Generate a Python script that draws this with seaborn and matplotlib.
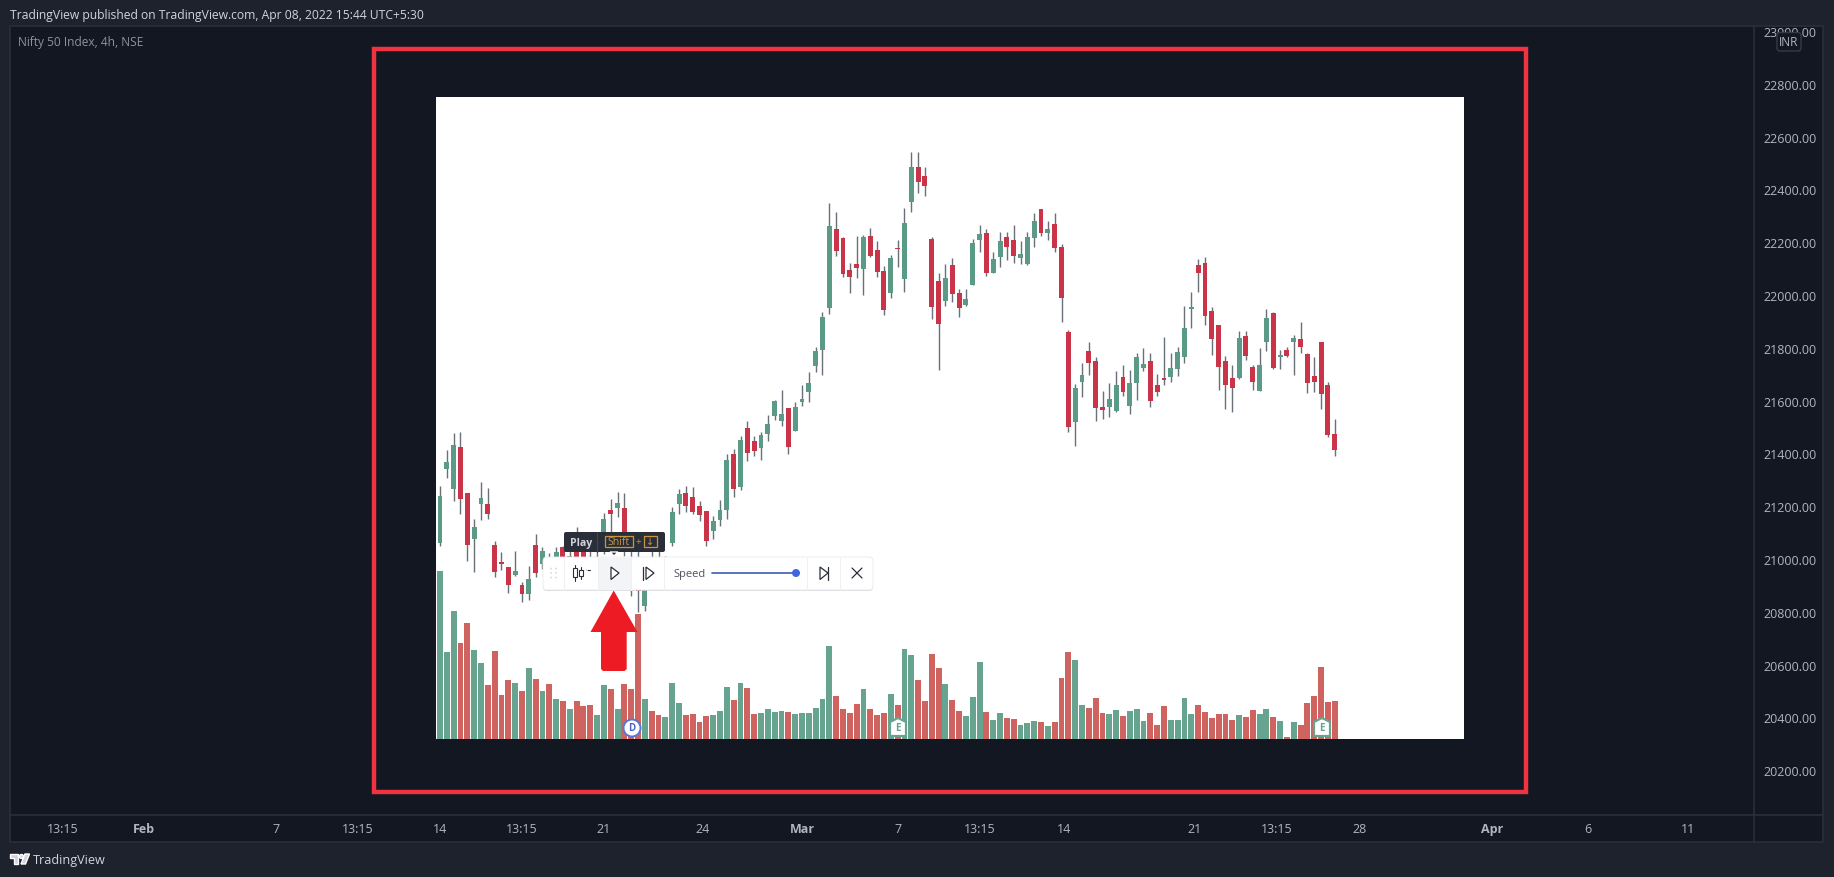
import numpy as np
import pandas as pd
import matplotlib
matplotlib.use("Agg")
import matplotlib.pyplot as plt
from matplotlib.patches import Rectangle, FancyBboxPatch, Polygon, Circle
import seaborn as sns

# --- datos (Nifty 50, velas de 4h) ---
opens = [21060, 21341, 21265, 21424, 21250, 21076, 21210, 21207, 21053, 20987,
         20968, 20941, 20901, 20867, 21053, 20981, 21000, 20975, 21044, 20962,
         21040, 21032, 20990, 20960, 21050, 21187, 21192, 21192, 21000, 20980,
         20823, 20990, 21000, 20950, 21060, 21208, 21250, 21236, 21199, 21182,
         21105, 21149, 21186, 21398, 21271, 21496, 21447, 21420, 21473, 21543,
         21523, 21573, 21484, 21596, 21634, 21730, 21793, 21951, 22251, 22216,
         22096, 22118, 22099, 22225, 22171, 22090, 22006, 22178, 22061, 22354,
         22485, 22450, 22212, 22053, 21976, 22112, 22008, 21963, 22039, 22210,
         22235, 22083, 22145, 22218, 22208, 22139, 22116, 22216, 22326, 22236,
         22269, 22183, 21859, 21520, 21672, 21788, 21749, 21575, 21575, 21561,
         21688, 21581, 21666, 21724, 21749, 21659, 21684, 21691, 21720, 21767,
         21948, 22112, 22121, 21938, 21885, 21749, 21684, 21684, 21846, 21729,
         21636, 21821, 21933, 21767, 21791, 21823, 21832, 21778, 21693, 21823,
         21659, 21472]
closes = [21240, 21366, 21432, 21227, 21053, 21122, 21232, 21170, 20952, 20981,
          20903, 20953, 20867, 20923, 20946, 21032, 20937, 21025, 20975, 21013,
          20990, 20980, 20950, 21000, 21151, 21170, 21211, 21040, 20900, 20880,
          20924, 20920, 20950, 20990, 21177, 21246, 21202, 21179, 21168, 21067,
          21145, 21186, 21375, 21265, 21451, 21401, 21408, 21470, 21511, 21597,
          21551, 21425, 21577, 21606, 21667, 21788, 21917, 22260, 22168, 22080,
          22070, 22102, 22220, 22149, 22087, 21945, 22140, 22174, 22274, 22485,
          22428, 22414, 21953, 21889, 22063, 22005, 21951, 21985, 22197, 22231,
          22083, 22136, 22205, 22182, 22149, 22154, 22218, 22279, 22236, 22249,
          22178, 21989, 21499, 21648, 21697, 21743, 21571, 21565, 21606, 21659,
          21631, 21667, 21767, 21739, 21600, 21634, 21678, 21724, 21783, 21875,
          21953, 22083, 21922, 21833, 21726, 21659, 21648, 21836, 21769, 21672,
          21735, 21913, 21724, 21772, 21769, 21836, 21804, 21668, 21672, 21626,
          21470, 21411]
highs = [21275, 21414, 21476, 21480, 21250, 21151, 21290, 21269, 21067, 21025,
         20968, 21032, 20914, 20972, 21096, 21044, 21023, 21044, 21050, 21040,
         21120, 21060, 21030, 21030, 21173, 21227, 21255, 21249, 21030, 21030,
         20960, 21030, 21030, 21010, 21196, 21265, 21275, 21271, 21218, 21183,
         21164, 21223, 21398, 21417, 21467, 21521, 21467, 21480, 21547, 21604,
         21642, 21573, 21594, 21659, 21707, 21802, 21934, 22347, 22313, 22218,
         22120, 22222, 22227, 22254, 22206, 22111, 22153, 22208, 22328, 22540,
         22540, 22485, 22218, 22082, 22118, 22140, 22023, 22023, 22212, 22265,
         22250, 22162, 22240, 22237, 22265, 22203, 22237, 22309, 22326, 22279,
         22309, 22193, 21868, 21663, 21743, 21821, 21764, 21635, 21666, 21711,
         21736, 21716, 21779, 21798, 21780, 21701, 21840, 21779, 21804, 21960,
         22010, 22138, 22143, 21955, 21886, 21768, 21735, 21865, 21865, 21735,
         21799, 21947, 21934, 21793, 21802, 21850, 21897, 21780, 21764, 21823,
         21669, 21530]
lows = [21050, 21305, 21221, 21170, 20994, 20949, 21149, 21151, 20930, 20960,
        20871, 20937, 20836, 20846, 20930, 20962, 20884, 20899, 20905, 20920,
        20940, 20930, 20920, 20930, 21020, 21100, 21158, 21010, 20860, 20798,
        20804, 20900, 20930, 20930, 21050, 21170, 21177, 21170, 21145, 21050,
        21076, 21124, 21151, 21236, 21263, 21372, 21391, 21376, 21446, 21527,
        21505, 21398, 21484, 21581, 21594, 21710, 21697, 21928, 22149, 22067,
        22008, 22064, 22000, 22143, 22067, 21926, 21987, 22107, 22013, 22316,
        22386, 22374, 21909, 21717, 21960, 21975, 21918, 21957, 22038, 22164,
        22071, 22083, 22107, 22133, 22121, 22116, 22115, 22181, 22225, 22210,
        22162, 21899, 21480, 21429, 21615, 21697, 21524, 21530, 21539, 21556,
        21616, 21549, 21602, 21713, 21577, 21616, 21660, 21669, 21695, 21743,
        21875, 22013, 21888, 21774, 21639, 21568, 21556, 21682, 21755, 21642,
        21636, 21789, 21720, 21720, 21767, 21698, 21780, 21629, 21634, 21568,
        21462, 21392]
# volumen en unidades relativas, el original no tiene escala de volumen
volumes = [168, 87, 128, 96, 116, 89, 76, 54, 88, 44,
           59, 56, 48, 71, 60, 48, 55, 40, 38, 30,
           38, 33, 34, 24, 54, 50, 30, 55, 50, 125,
           40, 28, 24, 22, 56, 36, 24, 25, 17, 23,
           24, 28, 52, 39, 56, 51, 25, 26, 30, 27,
           28, 27, 25, 26, 26, 31, 40, 93, 43, 30,
           26, 35, 50, 30, 24, 26, 45, 34, 90, 84,
           59, 38, 85, 71, 55, 39, 28, 23, 42, 77,
           27, 19, 26, 21, 20, 14, 16, 18, 17, 13,
           17, 61, 87, 79, 34, 31, 41, 26, 25, 29,
           23, 28, 30, 18, 26, 14, 33, 19, 19, 41,
           25, 34, 27, 21, 25, 25, 19, 24, 22, 29,
           25, 30, 22, 18, 2, 17, 14, 36, 43, 72,
           37, 38]

price_ticks = [20200, 20400, 20600, 20800, 21000, 21200, 21400, 21600, 21800,
               22000, 22200, 22400, 22600, 22800, 23000]
time_ticks = [-55.3, -43.3, -24, -12, 0, 12, 24, 38.5, 53, 67, 79, 91.4, 110.5,
              122.5, 134.6, 154, 168, 182.7]
time_labels = ["13:15", "Feb", "7", "13:15", "14", "13:15", "21", "24", "Mar",
               "7", "13:15", "14", "21", "13:15", "28", "Apr", "6", "11"]

W, H = 1834, 878
BG = "#1e222d"
CHART = "#131722"
LINE = "#2a2e39"
TEXT = "#b2b5be"
UP, DOWN = "#5a9a86", "#c93449"
VOL_UP, VOL_DOWN = "#67a490", "#cf6360"

sns.set_theme(style="dark")
plt.rcParams["font.family"] = ["Open Sans", "DejaVu Sans"]


def caja(x0, y0, x1, y1):
    # ejes a partir de pixeles de la imagen
    return [x0 / W, 1 - y1 / H, (x1 - x0) / W, (y1 - y0) / H]


df = pd.DataFrame({"bar": np.arange(len(opens)), "open": opens, "close": closes,
                   "high": highs, "low": lows, "volume": volumes})
df["dir"] = np.where(df["close"] >= df["open"], "up", "down")
df["body_low"] = df[["open", "close"]].min(axis=1)
df["body"] = (df["close"] - df["open"]).abs().clip(lower=5)

fig = plt.figure(figsize=(W / 100, H / 100), dpi=100, facecolor=BG)

# --- fondo: marco, recuadro rojo y panel blanco ---
fondo = fig.add_axes([0, 0, 1, 1], zorder=0)
fondo.set_xlim(0, W)
fondo.set_ylim(H, 0)
fondo.axis("off")
fondo.add_patch(Rectangle((10, 27), 1813, 816, fc=CHART, ec=LINE, lw=1.2))
fondo.plot([1754, 1754], [27, 843], color=LINE, lw=1.2)
fondo.plot([10, 1823], [816, 816], color=LINE, lw=1.2)
fondo.add_patch(Rectangle((374, 50), 1152, 742.5, fc="none", ec="#ef3340", lw=3.2))
fondo.add_patch(Rectangle((436, 97.5), 1028, 642, fc="white", ec="none"))

# --- velas ---
ax = fig.add_axes(caja(10, 27, 1754, 815), zorder=2)
ax.set_facecolor("none")
ax.set_xlim((10 - 440) / 6.83, (1754 - 440) / 6.83)
ax.set_ylim(20034, 23019)
ax.vlines(df["bar"], df["low"], df["high"], colors="#6a7078", lw=1.0, zorder=2)
ax.bar(df["bar"], df["body"], bottom=df["body_low"], width=0.72,
       color=df["dir"].map({"up": UP, "down": DOWN}), lw=0, zorder=3)
ax.yaxis.tick_right()
ax.set_yticks(price_ticks)
ax.set_yticklabels([f"{p:.2f}" for p in price_ticks], color=TEXT, fontsize=9)
ax.set_xticks(time_ticks)
ax.set_xticklabels(time_labels, color=TEXT, fontsize=9)
for etiqueta in ax.get_xticklabels():
    if etiqueta.get_text() in ("Feb", "Mar", "Apr"):
        etiqueta.set_fontweight("bold")
ax.tick_params(axis="y", length=0, pad=7)
ax.tick_params(axis="x", length=0, pad=5.5)
ax.grid(False)
sns.despine(ax=ax, left=True, right=True, top=True, bottom=True)

# --- volumen ---
ax_vol = fig.add_axes(caja(436, 97.5, 1464, 739.5), zorder=1)
ax_vol.set_facecolor("none")
sns.barplot(data=df, x="bar", y="volume", hue="dir", native_scale=True, dodge=False,
            palette={"up": VOL_UP, "down": VOL_DOWN}, width=0.86, legend=False,
            saturation=1, linewidth=0, ax=ax_vol)
ax_vol.set_xlim((436 - 440) / 6.83, (1464 - 440) / 6.83)
ax_vol.set_ylim(0, 642)
ax_vol.axis("off")

# --- capa superior: textos, barra de reproduccion y marcas ---
top = fig.add_axes([0, 0, 1, 1], zorder=5)
top.set_xlim(0, W)
top.set_ylim(H, 0)
top.axis("off")
top.patch.set_alpha(0)

top.text(10, 15, "TradingView published on TradingView.com, Apr 08, 2022 15:44 UTC+5:30",
         color="#d1d4dc", fontsize=8.75, va="center")
top.text(18, 42.5, "Nifty 50 Index, 4h, NSE", color="#8f929b", fontsize=8.6, va="center")
top.add_patch(FancyBboxPatch((1777, 33.5), 24, 18.5, boxstyle="round,pad=0,rounding_size=3",
                             fc=CHART, ec="#363a45", lw=1))
top.text(1789, 43, "INR", color=TEXT, fontsize=8.6, ha="center", va="center")

# logo y pie
top.add_patch(Polygon([(10, 855), (18, 855), (18, 865), (14, 865), (14, 859), (10, 859)], fc="#d1d4dc"))
top.add_patch(Circle((21.5, 857.5), 2, fc="#d1d4dc"))
top.add_patch(Polygon([(25, 855), (29.5, 855), (25.5, 865), (21, 865)], fc="#d1d4dc"))
top.text(33, 860.5, "TradingView", color="#d1d4dc", fontsize=9.1, va="center")

# marcas D y E sobre el volumen
top.add_patch(Circle((632, 729), 8.5, fc="white", ec="#5b74d6", lw=1.4))
top.text(632, 729, "D", color="#4a63c8", fontsize=7, ha="center", va="center", fontweight="bold")
for x_e in (898, 1322):
    top.add_patch(Polygon([(x_e, 719), (x_e + 8, 723), (x_e + 8, 737), (x_e - 8, 737), (x_e - 8, 723)],
                          fc="white", ec=VOL_UP, lw=1.6))
    top.text(x_e, 729, "E", color=VOL_UP, fontsize=7, ha="center", va="center", fontweight="bold")

# flecha roja
top.add_patch(Polygon([(613.7, 591.5), (637.5, 633), (626.7, 633), (626.7, 670), (624.5, 672),
                       (603, 672), (601, 670), (601, 633), (590.5, 633)], fc="#ed1c24", ec="none", zorder=4))

# barra de reproduccion
top.add_patch(FancyBboxPatch((543, 559), 330, 33, boxstyle="round,pad=0,rounding_size=4",
                             fc="#b9bbc2", ec="none", alpha=0.55, zorder=5))
top.add_patch(FancyBboxPatch((543, 558), 330, 33, boxstyle="round,pad=0,rounding_size=4",
                             fc="white", ec="#e9eaee", lw=0.6, zorder=6))
top.add_patch(Rectangle((598, 558.5), 33, 32, fc="#f3f4f6", ec="none", zorder=6))
for x_s in (564, 598, 631, 664, 807, 840):
    top.plot([x_s, x_s], [558.5, 590.5], color="#eff0f2", lw=0.8, zorder=7)
for dx in (551, 556):
    for dy in (569.5, 574, 578.5):
        top.add_patch(Circle((dx, dy), 0.9, fc="#d5d6da", ec="none", zorder=7))
# icono de velas
for x_i, y0, y1, y2, y3 in ((575, 566, 569, 578, 582), (581, 568, 571, 577, 580)):
    top.plot([x_i, x_i], [y0, y3], color="#2a2e39", lw=0.8, zorder=7)
    top.add_patch(Rectangle((x_i - 2, y1), 4, y2 - y1, fc="white", ec="#2a2e39", lw=0.8, zorder=8))
top.plot([585, 590], [571, 571], color="#2a2e39", lw=0.8, zorder=7)
top.add_patch(Polygon([(584.5, 571), (587, 569), (587, 573)], fc="#2a2e39", zorder=7))
# play y paso
top.add_patch(Polygon([(611, 568), (619, 574), (611, 580.5)], fc="white", ec="#2a2e39", lw=0.9, zorder=8))
top.plot([643, 643], [568, 580.5], color="#2a2e39", lw=0.9, zorder=8)
top.add_patch(Polygon([(646, 568), (654, 574), (646, 580.5)], fc="white", ec="#2a2e39", lw=0.9, zorder=8))
top.text(673, 574.5, "Speed", color="#50535e", fontsize=8, va="center", zorder=8)
top.plot([712, 796], [574, 574], color="#4a6bb8", lw=1.3, zorder=8)
top.add_patch(Circle((796, 574), 4, fc="#3f68e0", ec="none", zorder=9))
top.add_patch(Polygon([(820, 568), (828, 574), (820, 580.5)], fc="white", ec="#2a2e39", lw=0.9, zorder=8))
top.plot([828, 828], [568, 580.5], color="#2a2e39", lw=0.9, zorder=8)
top.plot([852, 862], [569, 579], color="#2a2e39", lw=0.9, zorder=8)
top.plot([852, 862], [579, 569], color="#2a2e39", lw=0.9, zorder=8)

# tooltip Play
top.add_patch(FancyBboxPatch((564, 533), 101, 20, boxstyle="round,pad=0,rounding_size=2",
                             fc="#2a2e39", ec="none", zorder=9))
top.add_patch(Polygon([(610, 553), (618, 553), (614, 557)], fc="#2a2e39", zorder=9))
top.plot([596.5, 596.5], [533, 553], color="#434651", lw=0.8, zorder=10)
top.text(570, 543.5, "Play", color="#d1d4dc", fontsize=7.6, fontweight="bold", va="center", zorder=10)
top.add_patch(Rectangle((605, 537), 28, 11, fc="none", ec="#c8963e", lw=0.9, zorder=10))
top.text(619, 543, "Shift", color="#c8963e", fontsize=7.6, ha="center", va="center", zorder=10)
top.text(638.7, 543, "+", color="#c8963e", fontsize=7, ha="center", va="center", zorder=10)
top.add_patch(Rectangle((644, 537), 13, 11, fc="none", ec="#c8963e", lw=0.9, zorder=10))
top.text(650.5, 542.7, "↓", color="#c8963e", fontsize=7, ha="center", va="center", zorder=10)

fig.savefig("out.png", dpi=100, facecolor=BG)
